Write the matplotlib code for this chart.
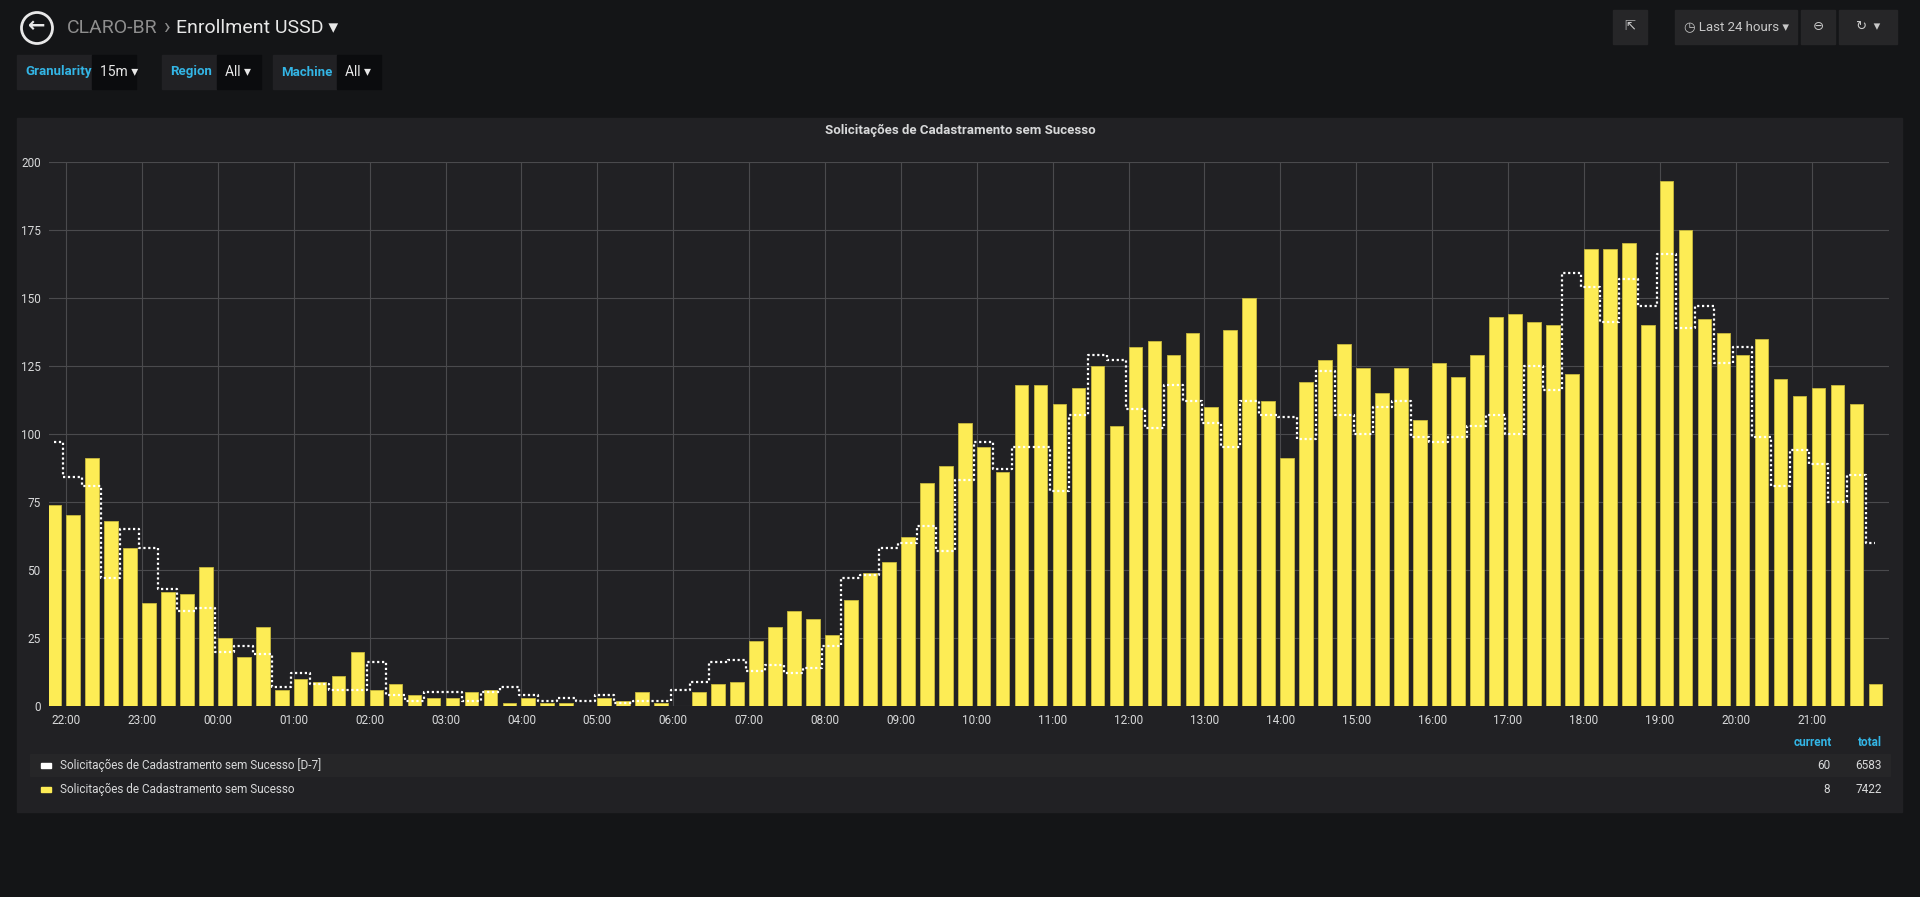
import matplotlib
matplotlib.use("Agg")
import matplotlib.pyplot as plt
from matplotlib.patches import Rectangle, Circle
import numpy as np

plt.rcParams['font.family'] = ['Roboto', 'DejaVu Sans']

# 15 minute buckets, starting ~21:50
current = [74, 70, 91, 68, 58, 38, 42, 41, 51, 25, 18, 29, 6, 10, 9, 11, 20, 6, 8, 4,
           3, 3, 5, 6, 1, 3, 1, 1, 0, 3, 2, 5, 1, 0, 5, 8, 9, 24, 29, 35,
           32, 26, 39, 49, 53, 62, 82, 88, 104, 95, 86, 118, 118, 111, 117, 125, 103, 132, 134, 129,
           137, 110, 138, 150, 112, 91, 119, 127, 133, 124, 115, 124, 105, 126, 121, 129, 143, 144, 141, 140,
           122, 168, 168, 170, 140, 193, 175, 142, 137, 129, 135, 120, 114, 117, 118, 111, 8]
week_ago = [97, 84, 81, 47, 65, 58, 43, 35, 36, 20, 22, 19, 7, 12, 8, 6, 6, 16, 4, 2,
            5, 5, 2, 5, 7, 4, 2, 3, 2, 4, 1, 2, 2, 6, 9, 16, 17, 13, 15, 12,
            14, 22, 47, 48, 58, 60, 66, 57, 83, 97, 87, 95, 95, 79, 107, 129, 127, 109, 102, 118,
            112, 104, 95, 112, 107, 106, 98, 123, 107, 100, 110, 112, 99, 97, 99, 103, 107, 100, 125, 116,
            159, 154, 141, 157, 147, 166, 139, 147, 126, 132, 99, 81, 94, 89, 75, 85, 60]
hour_labels = ["22:00", "23:00", "00:00", "01:00", "02:00", "03:00", "04:00", "05:00", "06:00",
               "07:00", "08:00", "09:00", "10:00", "11:00", "12:00", "13:00", "14:00", "15:00",
               "16:00", "17:00", "18:00", "19:00", "20:00", "21:00"]

series_names = ["Solicitações de Cadastramento sem Sucesso [D-7]",
                "Solicitações de Cadastramento sem Sucesso"]
series_current = [60, 8]
series_total = [6583, 7422]

x = -0.16 + 0.25 * np.arange(len(current))

fig = plt.figure(figsize=(19.2, 8.97), dpi=100)
fig.patch.set_facecolor('#141517')
W, H = 1920, 897

def fx(px):
    return px / W

def fy(py):
    return 1 - py / H

def box(px, py, pw, ph, color):
    fig.patches.append(Rectangle((fx(px), fy(py + ph)), fx(pw), ph / H,
                                 transform=fig.transFigure, color=color, zorder=0))

# panel background and legend row
box(17, 118, 1885, 694, '#212124')
box(30, 754, 1860, 22, '#262628')

ax = fig.add_axes([fx(49), fy(706), fx(1889 - 49), (706 - 161.6) / H])
ax.set_zorder(2)
ax.set_facecolor('#212124')
ax.bar(x, current, width=0.18, color='#fdec55', edgecolor='#c8b93c', linewidth=0.6, zorder=2)
ax.step(x, week_ago, where='mid', color='white', linestyle=(0, (1, 1.2)), linewidth=1.6, zorder=3)
ax.set_xlim(-0.226, 24.02)
ax.set_ylim(0, 200)
ax.set_yticks(range(0, 201, 25))
ax.set_xticks(range(24))
ax.set_xticklabels(hour_labels)
ax.grid(True, color='#4a4a4d', linewidth=0.8, zorder=0)
ax.set_axisbelow(True)
for s in ax.spines.values():
    s.set_visible(False)
ax.tick_params(colors='#d8d9da', labelsize=8.5, length=0, pad=6)

fig.text(fx(960), fy(130), "Solicitações de Cadastramento sem Sucesso", color='#d8d9da',
         fontsize=9.5, fontweight='bold', ha='center', va='center')

# header
fig.patches.append(Circle((0.37, 8.97 - 0.28), 0.155, transform=fig.dpi_scale_trans,
                          fill=False, edgecolor='#e8e8e8', linewidth=2))
fig.text(fx(37), fy(27), "←", color='#e8e8e8', fontsize=15, fontweight='bold', ha='center', va='center')
fig.text(fx(67), fy(28), "CLARO-BR", color='#8e8e8e', fontsize=14, va='center')
fig.text(fx(163), fy(28), "›", color='#8e8e8e', fontsize=16, va='center')
fig.text(fx(176), fy(28), "Enrollment USSD ▾", color='#e8e8e8', fontsize=14, va='center')

for lx, lw, label, vx, value in [(17, 75, "Granularity", 92, "15m ▾"),
                                  (162, 55, "Region", 217, "All ▾"),
                                  (273, 64, "Machine", 337, "All ▾")]:
    box(lx, 55, lw, 34, '#212124')
    box(vx, 55, 44, 34, '#0b0c0e')
    fig.text(fx(lx + 8), fy(72), label, color='#33b5e5', fontsize=9.5, fontweight='bold', va='center')
    fig.text(fx(vx + 8), fy(72), value, color='#e8e8e8', fontsize=10, va='center')

for bx, bw, txt in [(1613, 34, "⇱"), (1675, 122, "◷ Last 24 hours ▾"), (1801, 34, "⊖"), (1839, 58, "↻  ▾")]:
    box(bx, 10, bw, 34, '#262628')
    fig.text(fx(bx + bw / 2), fy(27), txt, color='#c8c8c8', fontsize=9.5, ha='center', va='center')

# legend
fig.text(fx(1813), fy(742), "current", color='#33b5e5', fontsize=8.5, fontweight='bold', ha='center', va='center')
fig.text(fx(1870), fy(742), "total", color='#33b5e5', fontsize=8.5, fontweight='bold', ha='center', va='center')
for i, (name, cur, tot, col) in enumerate(zip(series_names, series_current, series_total, ['white', '#fdec55'])):
    yy = fy(765 + i * 24)
    fig.patches.append(Rectangle((fx(41), yy - 3 / H), fx(10), 5 / H, transform=fig.transFigure, color=col))
    fig.text(fx(60), yy, name, color='#d8d9da', fontsize=8.5, va='center')
    fig.text(fx(1830), yy, str(cur), color='#d8d9da', fontsize=8.5, ha='right', va='center')
    fig.text(fx(1882), yy, str(tot), color='#d8d9da', fontsize=8.5, ha='right', va='center')

fig.savefig("out.png", dpi=100, facecolor=fig.get_facecolor())
